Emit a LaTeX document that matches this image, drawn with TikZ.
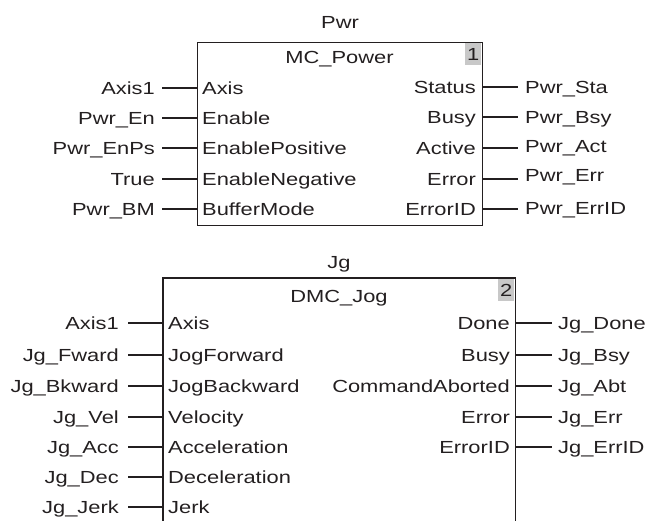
\documentclass[tikz,border=0pt]{standalone}
\usepackage{fontspec}
\setmainfont[FakeStretch=1.25]{Liberation Sans}
\definecolor{ink}{HTML}{231F20}
\definecolor{cellgray}{HTML}{C8C8C8}
\begin{document}
\begin{tikzpicture}[x=1pt,y=-1pt,
  font=\fontsize{17.5}{20}\selectfont, text=ink,
  lbl/.style={inner ysep=0pt, text height=12.5pt, text depth=0pt},
  inl/.style={lbl, anchor=east, inner xsep=7pt},
  outl/.style={lbl, anchor=west, inner xsep=7pt},
  pinl/.style={lbl, anchor=west, inner xsep=5pt},
  pinr/.style={lbl, anchor=east, inner xsep=6pt},
  cell/.style={lbl, fill=cellgray, inner sep=0pt, minimum width=16pt, minimum height=22pt, anchor=north east},
  wire/.style={draw=ink, line width=1.2pt},
  fbox/.style={draw=ink, line width=1.4pt}]
\useasboundingbox (0,0) rectangle (650,520);

% ---------- Block 1: MC_Power ----------
\node[lbl] (t1) at (340,22) {Pwr};
\node[cell] (c1) at (481.3,42.7) {1};
\node[fbox, inner sep=0pt, minimum width=285pt, minimum height=183pt, anchor=north west] (fb1) at (197,42) {};
\node[lbl] (n1) at (339.5,57) {MC\_Power};

\foreach \y/\ext/\pin [count=\i] in {88/Axis1/Axis, 118/Pwr\_En/Enable, 148/Pwr\_EnPs/EnablePositive, 179/True/EnableNegative, 209/Pwr\_BM/BufferMode} {
  \node[pinl] (p1i\i) at (197,\y) {\pin};
  \node[inl] (e1i\i) at (162,\y) {\ext};
  \draw[wire] (e1i\i.east) -- (p1i\i.west);
}
\foreach \y/\ext/\pin [count=\i] in {87/Pwr\_Sta/Status, 117/Pwr\_Bsy/Busy, 148/Pwr\_Act/Active, 179/Pwr\_Err/Error, 209/Pwr\_ErrID/ErrorID} {
  \node[pinr] (p1o\i) at (482,\y) {\pin};
  \coordinate (w1o\i) at (518,\y);
  \draw[wire] (p1o\i.east) -- (w1o\i);
}
\foreach \ext/\dy [count=\i] in {Pwr\_Sta/0, Pwr\_Bsy/0, Pwr\_Act/-2, Pwr\_Err/-4, Pwr\_ErrID/-1} {
  \node[lbl, anchor=west, inner xsep=7pt] (e1o\i) at ([yshift=-\dy pt]w1o\i) {\ext};
}

% ---------- Block 2: DMC_Jog ----------
\node[lbl] (t2) at (339,262) {Jg};
\node[cell] (c2) at (514.3,278.7) {2};
\node[draw=none, inner sep=0pt, minimum width=352pt, minimum height=245pt, anchor=north west] (fb2) at (163,278) {};
\draw[fbox] (fb2.south west) -- (fb2.north west) -- (fb2.north east) -- (fb2.south east);
\node[lbl] (n2) at (339,296) {DMC\_Jog};

\foreach \y/\ext/\pin [count=\i] in {323/Axis1/Axis, 355/Jg\_Fward/JogForward, 386/Jg\_Bkward/JogBackward, 417/Jg\_Vel/Velocity, 447/Jg\_Acc/Acceleration, 477/Jg\_Dec/Deceleration, 507/Jg\_Jerk/Jerk} {
  \node[pinl] (p2i\i) at (163,\y) {\pin};
  \node[inl, inner xsep=9pt] (e2i\i) at (128,\y) {\ext};
  \draw[wire] (e2i\i.east) -- (p2i\i.west);
}
\foreach \y/\ext/\pin [count=\i] in {323/Jg\_Done/Done, 355/Jg\_Bsy/Busy, 386/Jg\_Abt/CommandAborted, 417/Jg\_Err/Error, 447/Jg\_ErrID/ErrorID} {
  \node[pinr, inner xsep=5pt] (p2o\i) at (515,\y) {\pin};
  \node[outl, inner xsep=6pt] (e2o\i) at (552,\y) {\ext};
  \draw[wire] (p2o\i.east) -- (e2o\i.west);
}
\end{tikzpicture}
\end{document}
